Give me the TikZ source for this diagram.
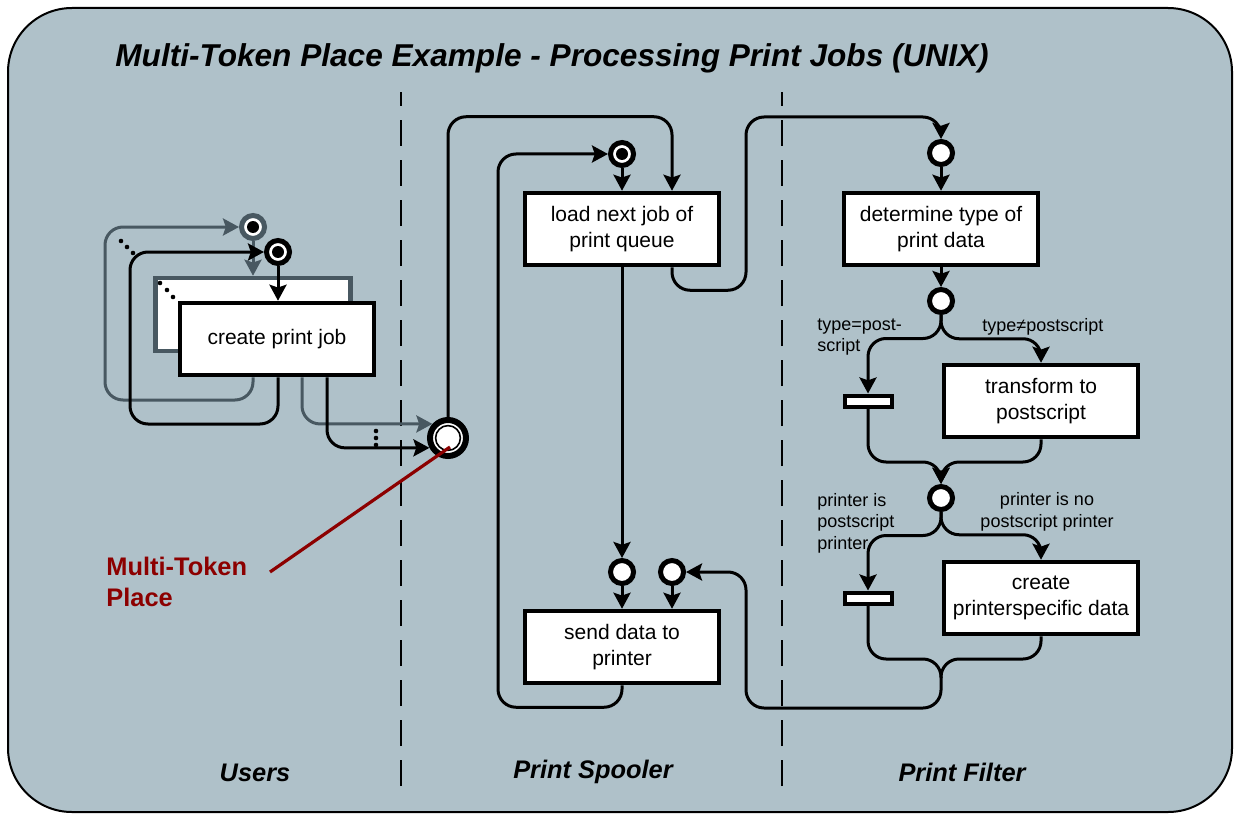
\documentclass[tikz,border=0pt]{standalone}
\usepackage{fontspec}
\setmainfont{Liberation Sans}
\usepackage{tikz}
\usetikzlibrary{arrows.meta,positioning,calc}
\definecolor{panelgray}{RGB}{175,193,201}
\definecolor{slate}{RGB}{72,88,97}
\definecolor{mtred}{RGB}{140,0,0}

\begin{document}
\begin{tikzpicture}[x=0.5pt,y=-0.5pt,
    box/.style={rectangle, draw, line width=2.25pt, fill=white, minimum width=97pt,
                minimum height=36pt, align=center, font=\fontsize{10.5}{13}\selectfont},
    place/.style={circle, draw, line width=2.5pt, fill=white, minimum size=11.5pt, inner sep=0pt},
    multiplace/.style={place, line width=3pt, minimum size=18pt},
    tran/.style={rectangle, draw, line width=2pt, fill=white, minimum width=23.5pt,
                minimum height=5.5pt, inner sep=0pt},
    arr/.style={-{Stealth[length=8pt,width=8.5pt,inset=1.4pt]}, line width=1.5pt, rounded corners=9pt},
    flow/.style={line width=1.5pt, rounded corners=9pt},
    swim/.style={line width=1pt, dash pattern=on 13pt off 7pt},
    lane/.style={font=\fontsize{12.7}{15}\selectfont\bfseries\itshape},
    cond/.style={font=\fontsize{9}{10.8}\selectfont, inner sep=0pt}
]
    \useasboundingbox (0,0) rectangle (1240,818);
    \draw[line width=1pt, fill=panelgray, rounded corners=32pt] (8,8) rectangle (1232,812);

    \node[anchor=west, inner sep=0pt, font=\fontsize{15.8}{19}\selectfont\bfseries\itshape] (title) at (115,58)
        {Multi-Token Place Example - Processing Print Jobs (UNIX)};

    \draw[swim] (401,786) -- (401,92);
    \draw[swim] (782,786) -- (782,92);

    \node[lane] (users) at (255,773) {Users};
    \node[lane] (spooler) at (593,772) {Print Spooler};
    \node[lane] (filter) at (962,772) {Print Filter};

    % users
    \node[box, draw=slate, minimum width=97.5pt, minimum height=36.5pt] (jobback) at (253,314.5) {};
    \node[box] (job) at (277,339) {create print job};
    \node[place, draw=slate] (ugray) at (253,227) {};
    \node[place] (ublack) at (278,252) {};
    \node[multiplace] (multi) at (448,438) {};
    \fill (ugray) circle (3pt);
    \fill (ublack) circle (3pt);
    \draw[line width=0.8pt] (multi) circle (6.2pt);

    \draw[arr, slate] (ugray) -- (jobback);
    \draw[arr, slate] (job.south -| ugray) |- (105,400) |- (ugray.west);
    \draw[arr] (job.south -| ublack) |- (130,424) |- (ublack.west);
    \draw[arr] (ublack) -- (ublack |- job.north);
    \draw[arr, slate] ($(job.south)+(25,0)$) |- (multi.138);
    \draw[arr] ($(job.south)+(50,0)$) |- (multi.208);

    \foreach \px/\py in {121/241, 127/247, 133/253, 160/283, 167/290, 173/297, 376/431, 376/438, 376/445}
        \fill (\px,\py) circle (1.15pt);

    \node[anchor=west, inner sep=0pt, align=left, text=mtred,
          font=\fontsize{12.7}{15.5}\selectfont\bfseries] (mtlabel) at (106,582) {Multi-Token\\Place};
    \coordinate (mtend) at (270,572);
    \draw[mtred, line width=1.6pt] (mtend) -- ($(multi)+(2,9)$);

    % spooler
    \node[place] (spool) at (622,154) {};
    \fill (spool) circle (3pt);
    \node[box] (load) at (622,229) {load next job of\\print queue};
    \node[place] (ready) at (622,572) {};
    \node[place] (free) at (672,572) {};
    \node[box] (send) at (622,647) {send data to\\printer};

    \draw[arr] (spool) -- (load);
    \draw[arr] (multi.north) |- ($(load.north)+(50,-74)$) -- ($(load.north)+(50,0)$);
    \draw[arr] (load) -- (ready);
    \draw[arr] (ready) -- (send);
    \draw[arr] (free) -- (free |- send.north);
    \draw[arr] (send.south) |- ($(send.south)+(-124,22)$) |- (spool.west);

    % filter
    \node[place] (ftop) at (941,153) {};
    \node[box] (detect) at (941,229) {determine type of\\print data};
    \node[place] (fsplit) at (941,301) {};
    \node[tran] (tps) at (868,401) {};
    \node[box] (conv) at (1041,401) {transform to\\postscript};
    \node[place] (fjoin) at (941,498) {};
    \node[tran] (tdirect) at (868,598) {};
    \node[box] (spec) at (1041,598) {create\\printerspecific data};

    \draw[arr] ($(load.south)+(50,0)$) |- ($(load.south)+(124,23)$) |- ($(ftop.north)+(0,-22)$) -- (ftop.north);
    \draw[arr] (ftop) -- (detect);
    \draw[arr] (detect) -- (fsplit);
    \draw[arr] (fsplit.south) |- ($(tps.north)+(0,-55)$) -- (tps.north);
    \draw[arr] (fsplit.south) |- ($(conv.north)+(0,-24)$) -- (conv.north);
    \draw[arr] (tps.south) |- ($(fjoin.north)+(0,-22)$) -- (fjoin.north);
    \draw[arr] (conv.south) |- ($(fjoin.north)+(0,-22)$) -- (fjoin.north);
    \draw[arr] (fjoin.south) |- ($(tdirect.north)+(0,-55)$) -- (tdirect.north);
    \draw[arr] (fjoin.south) |- ($(spec.north)+(0,-25)$) -- (spec.north);
    \draw[arr] (tdirect.south) |- ($(fjoin)+(0,161)$) -- ($(fjoin)+(0,210)$) -| ($(free.east)+(60,0)$) -- (free.east);
    \draw[flow] (spec.south) |- ($(fjoin)+(0,161)$) -- ($(fjoin)+(0,180)$);

    \node[cond, anchor=west, align=left] (lps) at (817,337) {type=post-\\script};
    \node[cond, anchor=west] (lnps) at (982,327) {type≠postscript};
    \node[cond, anchor=west, align=left] (lpp) at (817,523) {printer is\\postscript\\printer};
    \node[cond, align=center] (lnpp) at (1047,512) {printer is no\\postscript printer};
\end{tikzpicture}
\end{document}
